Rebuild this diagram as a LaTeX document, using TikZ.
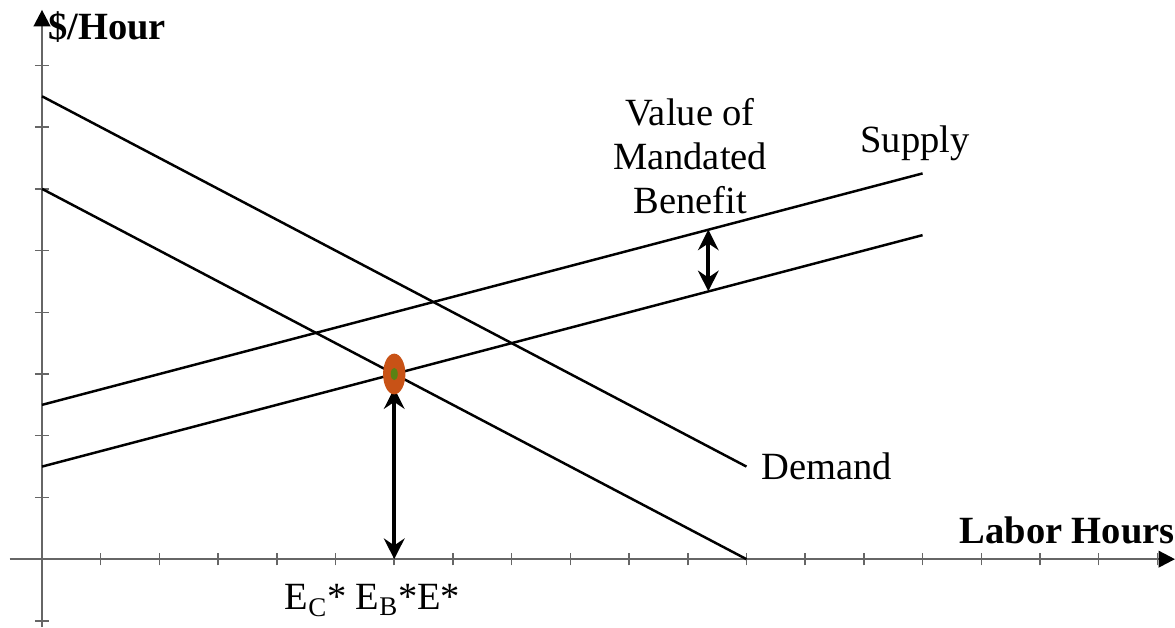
\documentclass[tikz,border=0pt]{standalone}
\usepackage{fontspec}
\setmainfont{Liberation Serif}
\usetikzlibrary{arrows.meta}
\tikzset{
  axisline/.style={line width=1.8pt,black!60,-{Triangle[length=12pt,width=12pt,color=black]}},
  curve/.style={line width=1.8pt,black},
  gap/.style={line width=2.8pt,black,{Stealth[length=15pt,width=15pt,inset=5pt]}-{Stealth[length=15pt,width=15pt,inset=5pt]}},
  lbl/.style={font=\fontsize{28}{32}\selectfont,inner sep=0pt},
  axislbl/.style={font=\bfseries\fontsize{28}{32}\selectfont,inner sep=0pt}
}
\begin{document}
\begin{tikzpicture}[x=1.5cm,y=1.577cm]
  \useasboundingbox (-0.7155,-1.102) rectangle (19.30,9.06);
  % axes
  \coordinate (xs) at (-0.55,0);
  \coordinate (xe) at (19.30,0);
  \coordinate (ys) at (0,-1.1);
  \coordinate (ye) at (0,8.9);
  \draw[axisline] (xs) -- (xe);
  \draw[axisline] (ys) -- (ye);
  \foreach \i in {1,...,19}
    \draw[line width=1.1pt,black!60] (\i,-0.1) -- (\i,0.1);
  \foreach \j in {-1,1,2,...,8}
    \draw[line width=1.1pt,black!60] (-0.12,\j) -- (0.12,\j);
  % demand and supply
  \coordinate (d1s) at (0,7.5);
  \coordinate (d1e) at (12,1.5);
  \coordinate (d2s) at (0,6);
  \coordinate (d2e) at (12,0);
  \coordinate (s1s) at (0,2.5);
  \coordinate (s1e) at (15,6.25);
  \coordinate (s2s) at (0,1.5);
  \coordinate (s2e) at (15,5.25);
  \draw[curve] (d1s) -- (d1e);
  \draw[curve] (d2s) -- (d2e);
  \draw[curve] (s1s) -- (s1e);
  \draw[curve] (s2s) -- (s2e);
  % benefit gap and new equilibrium
  \coordinate (gtop) at (11.35,5.34);
  \coordinate (gbot) at (11.35,4.34);
  \draw[gap] (gtop) -- (gbot);
  \coordinate (eqtop) at (6,2.77);
  \coordinate (eqbot) at (6,0);
  \draw[gap] (eqtop) -- (eqbot);
  \fill[fill={rgb,255:red,200;green,82;blue,22}] (6,3) ellipse (0.19 and 0.33);
  \fill[fill={rgb,255:red,90;green,130;blue,20}] (6,3) ellipse (0.06 and 0.1);
  % labels
  \node[axislbl,anchor=west] (ylab) at (0.1,8.62) {\$/Hour};
  \node[axislbl,anchor=east] (xlab) at (19.30,0.47) {Labor Hours};
  \node[lbl,anchor=west] (dem) at (12.25,1.5) {Demand};
  \node[lbl] (sup) at (14.87,6.74) {Supply};
  \node[lbl,align=center] (val) at (11.04,6.53) {Value of\\Mandated\\Benefit};
  \node[lbl] (eq) at (5.63,-0.67) {E\textsubscript{C}* E\textsubscript{B}*E*};
\end{tikzpicture}
\end{document}
